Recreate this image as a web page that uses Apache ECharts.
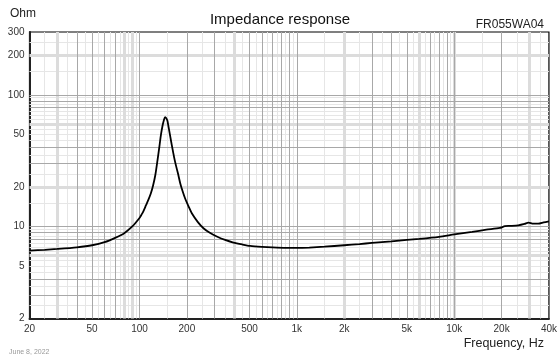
<!DOCTYPE html>
<html><head><meta charset="utf-8">
<script src="https://cdn.jsdelivr.net/npm/echarts@6/dist/echarts.min.js"></script>
<style>html,body{margin:0;padding:0;background:#fff}#c{width:560px;height:356px}</style>
</head><body><div id="c"></div>
<script>
var freq = [20,25,30,40,50,60,70,80,90,100,103,106,110,114,118,122,126,130,134,137,140,143,145.5,148,150.5,153,156,158.5,162,166,170,176,182,188,195,205,215,235,255,280,310,350,395,450,505,600,700,850,1000,1200,1500,2000,2500,3000,4000,5000,6000,8000,10000,13000,16000,19500,21000,22500,25500,28000,29600,31800,34200,37000,40000];
var impedance = [6.55,6.65,6.75,6.95,7.2,7.6,8.2,8.9,10.0,11.6,12.3,13.1,14.5,16.0,17.8,20.5,24.5,31.5,41,50,58,64.5,67.8,66.5,63.5,57,50,45,39,33.5,29.5,25,21,18.5,16.3,14.2,12.6,10.8,9.7,8.95,8.4,7.9,7.55,7.3,7.12,7.0,6.93,6.88,6.88,6.92,7.02,7.2,7.35,7.5,7.7,7.9,8.05,8.35,8.7,9.1,9.45,9.75,10.05,10.1,10.2,10.45,10.7,10.5,10.5,10.75,10.95];
var xTickLabels = [20,50,100,200,500,1000,2000,5000,10000,20000,40000];
var yTickLabels = [2,5,10,20,50,100,200,300];
var xGridDark = [40,50,60,70,100,200,300,500,600,700,800,900,1000,3000,4000,5000,7000,8000,9000,10000,20000];
var xGridLight = [25,35,45,55,65,75,85,95,150,250,350,450,550,650,750,850,950,1500,2500,3500,4500,5500,6500,7500,8500,9500,15000,25000,35000];
var xGridThick = [30,80,90,400,2000,6000,10000,30000];
var yGridDark = [3,4,8,9,10,30,40,80,90,100];
var yGridLight = [2.5,3.5,4.5,5,5.5,6.5,7,7.5,8.5,9.5,15,25,35,45,50,55,65,70,75,85,95,150,250];
var yGridThick = [6,20,60,200];

function gridSeries(vals, axis, color, width) {
  return {
    type: 'line', data: [], silent: true, z: 1,
    markLine: {
      silent: true, symbol: 'none', animation: false,
      label: {show: false},
      lineStyle: {color: color, width: width, type: 'solid'},
      emphasis: {disabled: true},
      data: vals.map(function (v) { var o = {}; o[axis] = v; return o; })
    }
  };
}
var chart = echarts.init(document.getElementById('c'), null, {renderer: 'canvas'});
var font = 'Liberation Sans, Arial, sans-serif';
chart.setOption({
  animation: false,
  textStyle: {fontFamily: font},
  title: [
    {text: 'Impedance response', left: 'center', top: 7, textStyle: {fontSize: 15, fontWeight: 'normal', color: '#111', fontFamily: font}},
    {text: 'Ohm', left: 5, top: 3, textStyle: {fontSize: 12, fontWeight: 'normal', color: '#222', fontFamily: font}},
    {text: 'FR055WA04', right: 11, top: 14, textStyle: {fontSize: 12, fontWeight: 'normal', color: '#222', fontFamily: font}},
    {text: 'Frequency, Hz', right: 11, top: 332, textStyle: {fontSize: 12.5, fontWeight: 'normal', color: '#222', fontFamily: font}},
    {text: 'June 8, 2022', left: 4, top: 344, textStyle: {fontSize: 7, fontWeight: 'normal', color: '#999', fontFamily: font}}
  ],
  grid: {left: 29.5, right: 11, top: 32, bottom: 37.5, show: true, borderColor: '#000', borderWidth: 1.2, backgroundColor: '#fff'},
  xAxis: {
    type: 'log', logBase: 10, min: 20, max: 40000,
    axisLine: {show: true, lineStyle: {color: '#222', width: 2}},
    axisTick: {show: false},
    splitLine: {show: false},
    minorTick: {show: false}, minorSplitLine: {show: false},
    axisLabel: {
      customValues: xTickLabels, margin: 6, fontSize: 10, color: '#333', fontFamily: font,
      formatter: function (v) { v = Math.round(v); return v >= 1000 ? (v / 1000) + 'k' : String(v); }
    }
  },
  yAxis: {
    type: 'log', logBase: 10, min: 2, max: 300,
    axisLine: {show: true, lineStyle: {color: '#222', width: 2}},
    axisTick: {show: false},
    splitLine: {show: false},
    minorTick: {show: false}, minorSplitLine: {show: false},
    axisLabel: {
      customValues: yTickLabels, margin: 5, fontSize: 10, color: '#333', fontFamily: font,
      formatter: function (v) { return String(Math.round(v)); }
    }
  },
  series: [
    gridSeries(xGridLight, 'xAxis', '#e6e6e6', 1),
    gridSeries(yGridLight, 'yAxis', '#e6e6e6', 1),
    gridSeries(xGridThick, 'xAxis', '#dcdcdc', 3),
    gridSeries(yGridThick, 'yAxis', '#dcdcdc', 3),
    gridSeries(xGridDark, 'xAxis', '#a8a8a8', 1),
    gridSeries(yGridDark, 'yAxis', '#a8a8a8', 1),
    {
      type: 'line', z: 5, smooth: 0.25, symbol: 'none',
      lineStyle: {color: '#000', width: 1.8},
      data: freq.map(function (f, i) { return [f, impedance[i]]; })
    }
  ]
});
</script></body></html>
